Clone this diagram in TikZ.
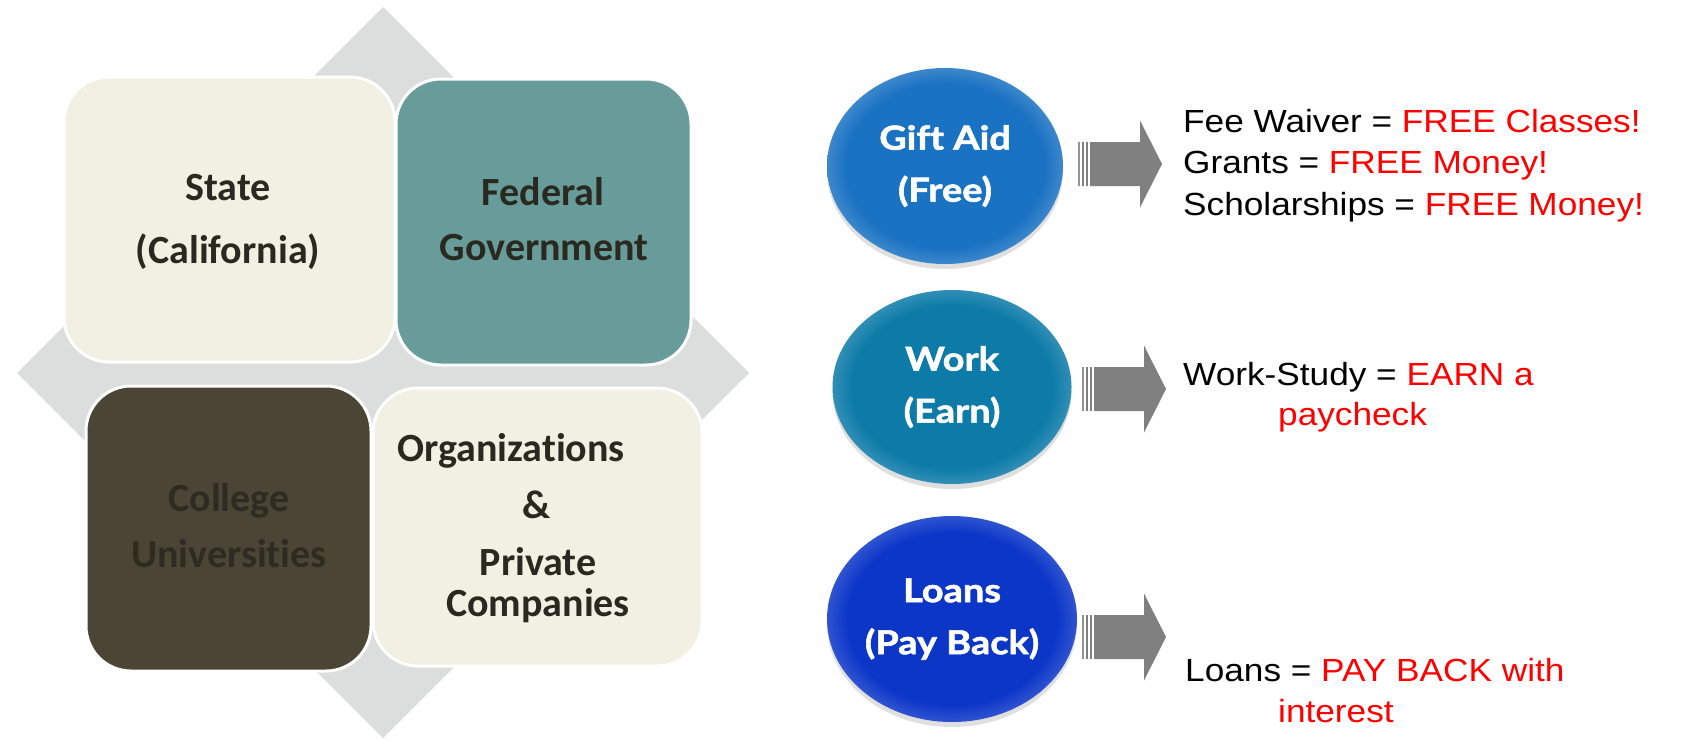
\documentclass[tikz,border=0pt]{standalone}
\usepackage{fontspec}
\setmainfont{Liberation Sans}
\newfontfamily\boxfont[Ligatures=NoCommon]{Carlito}
\newfontfamily\ellfont[FakeStretch=1.15,FakeBold=1.8,Ligatures=NoCommon]{Lato}
\newfontfamily\rfont[FakeStretch=1.1]{Liberation Sans}
\usetikzlibrary{shapes.geometric,shadows}
\definecolor{diamondgray}{HTML}{DCDEDD}
\definecolor{cream}{HTML}{F2F0E2}
\definecolor{teal}{HTML}{679C9A}
\definecolor{darkbrown}{HTML}{4B4535}
\definecolor{boxtextcol}{HTML}{2A2920}
\definecolor{collegetext}{HTML}{2E2B21}
\definecolor{giftblue}{HTML}{1A72C2}
\definecolor{workblue}{HTML}{0D7BA8}
\definecolor{loanblue}{HTML}{0B36C8}
\definecolor{arrowgray}{HTML}{808080}
\definecolor{redtext}{HTML}{FF0000}
\pgfdeclareradialshading{giftshade}{\pgfpoint{0bp}{0bp}}{color(0bp)=(giftblue); color(21bp)=(giftblue); color(25bp)=(giftblue!85!white); color(50bp)=(giftblue!85!white)}
\pgfdeclareradialshading{workshade}{\pgfpoint{0bp}{0bp}}{color(0bp)=(workblue); color(21bp)=(workblue); color(25bp)=(workblue!85!white); color(50bp)=(workblue!85!white)}
\pgfdeclareradialshading{loanshade}{\pgfpoint{0bp}{0bp}}{color(0bp)=(loanblue); color(21bp)=(loanblue); color(25bp)=(loanblue!85!white); color(50bp)=(loanblue!85!white)}
\tikzset{
  blockarr/.pic={
    \fill[arrowgray!85] (0,-22) rectangle (2.3,22);
    \fill[arrowgray] (4,-22) rectangle (6.3,22);
    \fill[arrowgray] (8,-22) rectangle (10.3,22);
    \fill[arrowgray] (12,-22) -- (62,-22) -- (62,-43.5) -- (84,0) -- (62,43.5) -- (62,22) -- (12,22) -- cycle;
  }
}
\begin{document}
\begin{tikzpicture}[x=1pt,y=-1pt,
  box/.style={draw=white, line width=3pt, rounded corners=45pt, inner sep=0pt},
  boxtext/.style={anchor=base, inner sep=0pt, text=boxtextcol,
    font=\boxfont\bfseries\fontsize{40}{48}\selectfont},
  ellip/.style={ellipse, inner sep=0pt, text=white, align=center,
    font=\ellfont\bfseries\fontsize{33}{52}\selectfont,
    drop shadow={shadow xshift=0pt, shadow yshift=-5pt, opacity=0.25}},
  rtext/.style={anchor=base west, inner sep=0pt, font=\rfont\fontsize{32}{40}\selectfont},
]
\fill[white] (0,0) rectangle (1693,739);
\useasboundingbox (0,0) rectangle (1693,739);

% diamond background
\fill[diamondgray] (383,7) -- (749,373) -- (383,738) -- (17,373) -- cycle;

% four boxes
\node[box, fill=cream, minimum width=331pt, minimum height=285pt] (state) at (229.5,219.5) {};
\node[box, fill=teal, minimum width=295pt, minimum height=286pt] (federal) at (543.5,222) {};
\node[box, fill=darkbrown, minimum width=285pt, minimum height=285pt] (college) at (228.5,528.5) {};
\node[box, fill=cream, minimum width=329pt, minimum height=278pt] (org) at (537.5,527) {};

% box texts
\node[boxtext] (t1) at (228,200) {State};
\node[boxtext] (t2) at (228,263.5) {(California)};
\node[boxtext] (t3) at (543,205) {Federal};
\node[boxtext] (t4) at (544,260) {Government};
\node[boxtext, text=collegetext] (t5) at (229,511) {College};
\node[boxtext, text=collegetext] (t6) at (229,567) {Universities};
\node[boxtext] (t7) at (511,461) {Organizations};
\node[boxtext] (t8) at (537,518) {\&};
\node[boxtext] (t9) at (538,575) {Private};
\node[boxtext] (t10) at (538,616) {Companies};

% ellipses
\node[ellip, shading=giftshade, minimum width=236pt, minimum height=196pt] (gift) at (945,166) {Gift Aid\\(Free)};
\node[ellip, shading=workshade, minimum width=239pt, minimum height=194pt] (work) at (952,387) {Work\\(Earn)};
\node[ellip, shading=loanshade, minimum width=250pt, minimum height=206pt] (loans) at (952,619) {Loans\\(Pay Back)};

% block arrows
\coordinate (a1) at (1078,164);
\coordinate (a2) at (1082,389);
\coordinate (a3) at (1082,637);
\pic at (a1) {blockarr};
\pic at (a2) {blockarr};
\pic at (a3) {blockarr};

% right texts
\node[rtext] (r1) at (1183,132) {Fee Waiver = \textcolor{redtext}{FREE Classes!}};
\node[rtext] (r2) at (1183,173) {Grants = \textcolor{redtext}{FREE Money!}};
\node[rtext] (r3) at (1183,215) {Scholarships = \textcolor{redtext}{FREE Money!}};
\node[rtext] (r4) at (1183,385) {Work-Study = \textcolor{redtext}{EARN a}};
\node[rtext, text=redtext] (r5) at (1278,425) {paycheck};
\node[rtext] (r6) at (1185,681) {Loans = \textcolor{redtext}{PAY BACK with}};
\node[rtext, text=redtext] (r7) at (1278,722) {interest};
\end{tikzpicture}
\end{document}
